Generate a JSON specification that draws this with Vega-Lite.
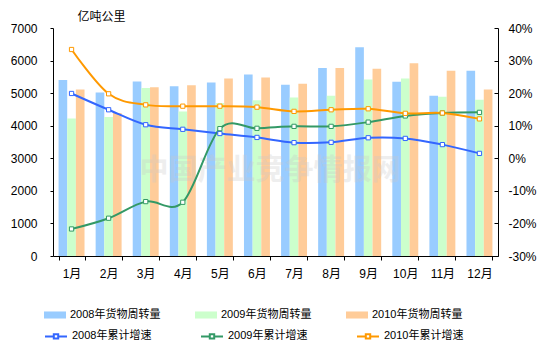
{
  "$schema": "https://vega.github.io/schema/vega-lite/v6.json",
  "width": 445,
  "height": 228,
  "autosize": {"type": "none"},
  "padding": {"left": 53, "top": 28, "right": 58, "bottom": 96},
  "background": "white",
  "config": {
    "view": {"stroke": null},
    "font": "Liberation Sans, Noto Sans CJK SC",
    "axis": {
      "domainColor": "black",
      "tickColor": "black",
      "labelColor": "black",
      "labelFont": "Liberation Sans, Noto Sans CJK SC",
      "labelFontSize": 12,
      "labelOverlap": false,
      "labelFlush": false,
      "labelBound": false,
      "grid": false
    },
    "legend": {
      "labelFont": "Liberation Sans, Noto Sans CJK SC",
      "labelFontSize": 11,
      "labelColor": "black",
      "padding": 0,
      "offset": 0
    }
  },
  "datasets": {
    "bars": [
      {"month": "1月", "series": "2008年货物周转量", "value": 5400},
      {"month": "1月", "series": "2009年货物周转量", "value": 4220},
      {"month": "1月", "series": "2010年货物周转量", "value": 5110},
      {"month": "2月", "series": "2008年货物周转量", "value": 5020},
      {"month": "2月", "series": "2009年货物周转量", "value": 4270},
      {"month": "2月", "series": "2010年货物周转量", "value": 4390},
      {"month": "3月", "series": "2008年货物周转量", "value": 5360},
      {"month": "3月", "series": "2009年货物周转量", "value": 5160},
      {"month": "3月", "series": "2010年货物周转量", "value": 5180},
      {"month": "4月", "series": "2008年货物周转量", "value": 5210},
      {"month": "4月", "series": "2009年货物周转量", "value": 4440},
      {"month": "4月", "series": "2010年货物周转量", "value": 5240},
      {"month": "5月", "series": "2008年货物周转量", "value": 5330},
      {"month": "5月", "series": "2009年货物周转量", "value": 4700},
      {"month": "5月", "series": "2010年货物周转量", "value": 5450},
      {"month": "6月", "series": "2008年货物周转量", "value": 5570},
      {"month": "6月", "series": "2009年货物周转量", "value": 4780},
      {"month": "6月", "series": "2010年货物周转量", "value": 5480},
      {"month": "7月", "series": "2008年货物周转量", "value": 5260},
      {"month": "7月", "series": "2009年货物周转量", "value": 4870},
      {"month": "7月", "series": "2010年货物周转量", "value": 5290},
      {"month": "8月", "series": "2008年货物周转量", "value": 5770},
      {"month": "8月", "series": "2009年货物周转量", "value": 4920},
      {"month": "8月", "series": "2010年货物周转量", "value": 5770},
      {"month": "9月", "series": "2008年货物周转量", "value": 6410},
      {"month": "9月", "series": "2009年货物周转量", "value": 5420},
      {"month": "9月", "series": "2010年货物周转量", "value": 5750},
      {"month": "10月", "series": "2008年货物周转量", "value": 5350},
      {"month": "10月", "series": "2009年货物周转量", "value": 5450},
      {"month": "10月", "series": "2010年货物周转量", "value": 5920},
      {"month": "11月", "series": "2008年货物周转量", "value": 4920},
      {"month": "11月", "series": "2009年货物周转量", "value": 4890},
      {"month": "11月", "series": "2010年货物周转量", "value": 5690},
      {"month": "12月", "series": "2008年货物周转量", "value": 5690},
      {"month": "12月", "series": "2009年货物周转量", "value": 4800},
      {"month": "12月", "series": "2010年货物周转量", "value": 5110}
    ],
    "lines": [
      {"month": "1月", "series": "2008年累计增速", "rate": 0.199},
      {"month": "2月", "series": "2008年累计增速", "rate": 0.149},
      {"month": "3月", "series": "2008年累计增速", "rate": 0.103},
      {"month": "4月", "series": "2008年累计增速", "rate": 0.089},
      {"month": "5月", "series": "2008年累计增速", "rate": 0.076},
      {"month": "6月", "series": "2008年累计增速", "rate": 0.064},
      {"month": "7月", "series": "2008年累计增速", "rate": 0.048},
      {"month": "8月", "series": "2008年累计增速", "rate": 0.049},
      {"month": "9月", "series": "2008年累计增速", "rate": 0.063},
      {"month": "10月", "series": "2008年累计增速", "rate": 0.061},
      {"month": "11月", "series": "2008年累计增速", "rate": 0.042},
      {"month": "12月", "series": "2008年累计增速", "rate": 0.015},
      {"month": "1月", "series": "2009年累计增速", "rate": -0.217},
      {"month": "2月", "series": "2009年累计增速", "rate": -0.184},
      {"month": "3月", "series": "2009年累计增速", "rate": -0.133},
      {"month": "4月", "series": "2009年累计增速", "rate": -0.135},
      {"month": "5月", "series": "2009年累计增速", "rate": 0.091},
      {"month": "6月", "series": "2009年累计增速", "rate": 0.092},
      {"month": "7月", "series": "2009年累计增速", "rate": 0.098},
      {"month": "8月", "series": "2009年累计增速", "rate": 0.098},
      {"month": "9月", "series": "2009年累计增速", "rate": 0.111},
      {"month": "10月", "series": "2009年累计增速", "rate": 0.130},
      {"month": "11月", "series": "2009年累计增速", "rate": 0.139},
      {"month": "12月", "series": "2009年累计增速", "rate": 0.141},
      {"month": "1月", "series": "2010年累计增速", "rate": 0.334},
      {"month": "2月", "series": "2010年累计增速", "rate": 0.198},
      {"month": "3月", "series": "2010年累计增速", "rate": 0.164},
      {"month": "4月", "series": "2010年累计增速", "rate": 0.160},
      {"month": "5月", "series": "2010年累计增速", "rate": 0.160},
      {"month": "6月", "series": "2010年累计增速", "rate": 0.157},
      {"month": "7月", "series": "2010年累计增速", "rate": 0.144},
      {"month": "8月", "series": "2010年累计增速", "rate": 0.149},
      {"month": "9月", "series": "2010年累计增速", "rate": 0.152},
      {"month": "10月", "series": "2010年累计增速", "rate": 0.138},
      {"month": "11月", "series": "2010年累计增速", "rate": 0.139},
      {"month": "12月", "series": "2010年累计增速", "rate": 0.121}
    ],
    "mark": [{"label": "中国产业竞争情报网", "month": "6月", "value": 2600}]
  },
  "layer": [
    {
      "layer": [
        {
          "data": {"name": "bars"},
          "mark": {"type": "bar"},
          "encoding": {
            "x": {
              "field": "month", "type": "nominal",
              "scale": {"domain": ["1月","2月","3月","4月","5月","6月","7月","8月","9月","10月","11月","12月"], "paddingInner": 0.3, "paddingOuter": 0.15},
              "axis": {"title": null, "labelAngle": 0, "tickBand": "extent", "tickSize": 4, "labelPadding": 8, "domainColor": "black"}
            },
            "xOffset": {"field": "series", "type": "nominal", "scale": {"paddingInner": 0, "paddingOuter": 0}},
            "y": {
              "field": "value", "type": "quantitative",
              "scale": {"domain": [0, 7000], "nice": false, "zero": true},
              "axis": {
                "orient": "left", "values": [0,1000,2000,3000,4000,5000,6000,7000], "format": "d",
                "tickCount": 8, "labelOverlap": false, "labelFlush": false, "labelBound": false,
                "tickSize": 3, "labelPadding": 13,
                "title": "亿吨公里", "titleAngle": 0, "titleAlign": "left", "titleBaseline": "middle",
                "titleX": 24, "titleY": -12, "titleFontSize": 12, "titleFontWeight": "normal",
                "titleFont": "Noto Sans CJK SC", "titleColor": "black"
              }
            },
            "fill": {
              "field": "series", "type": "nominal",
              "scale": {"domain": ["2008年货物周转量","2009年货物周转量","2010年货物周转量"], "range": ["#99CCFF","#CCFFCC","#FFCC99"]},
              "legend": {
                "title": null, "orient": "none", "direction": "horizontal", "columns": 3,
                "legendX": -9, "legendY": 276,
                "symbolType": "M-1,-0.32H1V0.32H-1Z", "symbolSize": 484, "symbolStrokeWidth": 0,
                "labelOffset": 4, "columnPadding": 34
              }
            }
          }
        },
        {
          "data": {"name": "mark"},
          "mark": {"type": "text", "fontSize": 29, "fontWeight": "bold", "font": "Noto Sans CJK SC", "color": "#c8c8c8", "opacity": 0.3, "align": "center", "baseline": "middle"},
          "encoding": {
            "x": {"field": "month", "type": "nominal", "bandPosition": 1, "scale": {"domain": ["1月","2月","3月","4月","5月","6月","7月","8月","9月","10月","11月","12月"], "paddingInner": 0.3, "paddingOuter": 0.15}},
            "y": {"field": "value", "type": "quantitative", "scale": {"domain": [0, 7000], "nice": false, "zero": true}},
            "text": {"field": "label"}
          }
        }
      ]
    },
    {
      "layer": [
        {
          "data": {"name": "lines"},
          "mark": {"type": "line", "interpolate": "cardinal", "strokeWidth": 2},
          "encoding": {
            "x": {"field": "month", "type": "nominal", "scale": {"domain": ["1月","2月","3月","4月","5月","6月","7月","8月","9月","10月","11月","12月"], "paddingInner": 0.3, "paddingOuter": 0.15}},
            "y": {
              "field": "rate", "type": "quantitative",
              "scale": {"domain": [-0.3, 0.4], "nice": false, "zero": false},
              "axis": {
                "orient": "right", "values": [-0.3,-0.2,-0.1,0,0.1,0.2,0.3,0.4],
                "tickCount": 8, "labelOverlap": false, "labelFlush": false, "labelBound": false,
                "labelExpr": "replace(format(datum.value, '.0%'), '−', '-')",
                "tickSize": -4, "labelPadding": 14, "title": null
              }
            },
            "stroke": {
              "field": "series", "type": "nominal",
              "scale": {"domain": ["2008年累计增速","2009年累计增速","2010年累计增速"], "range": ["#3366FF","#339966","#FF9900"]},
              "legend": {
                "title": null, "orient": "none", "direction": "horizontal", "columns": 3,
                "legendX": -9, "legendY": 296,
                "symbolType": "M-1,0H-0.2M0.2,0H1M-0.2,-0.2H0.2V0.2H-0.2Z", "symbolSize": 484, "symbolStrokeWidth": 2,
                "symbolFillColor": "white",
                "labelOffset": 4, "columnPadding": 45
              }
            }
          }
        },
        {
          "data": {"name": "lines"},
          "mark": {"type": "point", "shape": "square", "filled": true, "fill": "white", "size": 18, "strokeWidth": 1, "opacity": 1},
          "encoding": {
            "x": {"field": "month", "type": "nominal", "scale": {"domain": ["1月","2月","3月","4月","5月","6月","7月","8月","9月","10月","11月","12月"], "paddingInner": 0.3, "paddingOuter": 0.15}},
            "y": {"field": "rate", "type": "quantitative", "scale": {"domain": [-0.3, 0.4], "nice": false, "zero": false}},
            "stroke": {
              "field": "series", "type": "nominal",
              "scale": {"domain": ["2008年累计增速","2009年累计增速","2010年累计增速"], "range": ["#3366FF","#339966","#FF9900"]},
              "legend": {
                "title": null, "orient": "none", "direction": "horizontal", "columns": 3,
                "legendX": -9, "legendY": 296,
                "symbolType": "M-1,0H-0.2M0.2,0H1M-0.2,-0.2H0.2V0.2H-0.2Z", "symbolSize": 484, "symbolStrokeWidth": 2,
                "symbolFillColor": "white",
                "labelOffset": 4, "columnPadding": 45
              }
            }
          }
        }
      ]
    }
  ],
  "resolve": {"scale": {"y": "independent"}}
}
